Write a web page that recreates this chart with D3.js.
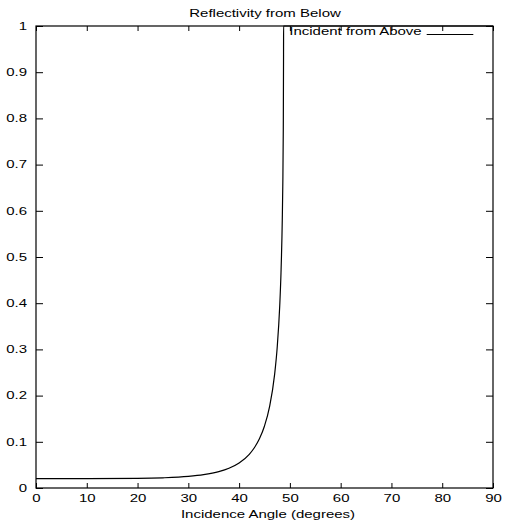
<!DOCTYPE html>
<html>
<head>
<meta charset="utf-8">
<script src="https://cdn.jsdelivr.net/npm/d3@7"></script>
<style>
  body { margin: 0; background: #fff; }
  text { font-family: "Liberation Sans", Arial, sans-serif; font-size: 10px; fill: #000; }
</style>
</head>
<body>
<div id="chart"></div>
<script>
// curve: incidence angle (deg) -> reflectivity
var angles = [0, 10, 20, 25, 30, 33, 36, 38, 40, 42, 43, 44, 45, 46, 47, 47.5, 48, 48.25, 48.5, 48.6, 48.7, 48.75, 48.76, 60, 75, 90];
var reflect = [0.0201, 0.0201, 0.0207, 0.022, 0.0251, 0.0289, 0.0355, 0.0428, 0.0542, 0.073, 0.0872, 0.1065, 0.1342, 0.1761, 0.2466, 0.304, 0.3944, 0.4658, 0.5798, 0.6529, 0.7762, 0.939, 1, 1, 1, 1];

var xTicks = [0, 10, 20, 30, 40, 50, 60, 70, 80, 90];
var yTicks = [0, 0.1, 0.2, 0.3, 0.4, 0.5, 0.6, 0.7, 0.8, 0.9, 1];
var yTickLabels = ["0", "0.1", "0.2", "0.3", "0.4", "0.5", "0.6", "0.7", "0.8", "0.9", "1"];

var titleText = "Reflectivity from Below";
var xLabel = "Incidence Angle (degrees)";
var seriesName = "Incident from Above";

var W = 505, H = 522;
var margin = {top: 26, right: 12, bottom: 34, left: 36};
var sx = 1.5; // text is stretched sideways in the original

var svg = d3.select("#chart").append("svg")
    .attr("width", W)
    .attr("height", H);

var x = d3.scaleLinear().domain([0, 90]).range([margin.left, W - margin.right]);
var y = d3.scaleLinear().domain([0, 1]).range([H - margin.bottom, margin.top]);

// bottom axis (ticks pointing in)
var gx = svg.append("g")
    .attr("transform", "translate(0," + y(0) + ")")
    .call(d3.axisBottom(x).tickValues(xTicks).tickSize(-5).tickPadding(7).tickFormat(d3.format("d")));
gx.selectAll("text").attr("transform", "scale(" + sx + ",1)").attr("font-family", null).attr("font-size", null);

// left axis
var gy = svg.append("g")
    .attr("transform", "translate(" + x(0) + ",0)")
    .call(d3.axisLeft(y).tickValues(yTicks).tickSize(-7)
      .tickFormat(function(d, i) { return yTickLabels[i]; }));
gy.selectAll("text")
    .attr("x", 0)
    .attr("transform", "translate(-9,0) scale(" + sx + ",1)")
    .attr("font-family", null).attr("font-size", null);

// mirrored ticks on top and right
svg.append("g")
    .attr("transform", "translate(0," + y(1) + ")")
    .call(d3.axisTop(x).tickValues(xTicks).tickSize(-5).tickFormat(""));
svg.append("g")
    .attr("transform", "translate(" + x(90) + ",0)")
    .call(d3.axisRight(y).tickValues(yTicks).tickSize(-7).tickFormat(""));

svg.selectAll(".domain").remove();
svg.selectAll(".tick line").attr("stroke", "#000");

// border
svg.append("rect")
    .attr("x", x(0)).attr("y", y(1))
    .attr("width", x(90) - x(0)).attr("height", y(0) - y(1))
    .attr("fill", "none").attr("stroke", "#000").attr("stroke-width", 1.2);

// curve
var pts = angles.map(function(a, i) { return [a, reflect[i]]; });
var line = d3.line()
    .x(function(d) { return x(d[0]); })
    .y(function(d) { return y(d[1]); })
    .curve(d3.curveMonotoneX);
svg.append("path")
    .datum(pts)
    .attr("d", line)
    .attr("fill", "none")
    .attr("stroke", "#000")
    .attr("stroke-width", 1.2);

// legend
svg.append("text")
    .attr("transform", "translate(421.7,35) scale(" + sx + ",1)")
    .attr("text-anchor", "end")
    .text(seriesName);
svg.append("line")
    .attr("x1", 426.7).attr("x2", 473.3)
    .attr("y1", 34.5).attr("y2", 34.5)
    .attr("stroke", "#000").attr("stroke-width", 1);

// title and x label
svg.append("text")
    .attr("transform", "translate(265,16.5) scale(" + sx + ",1)")
    .attr("text-anchor", "middle")
    .text(titleText);
svg.append("text")
    .attr("transform", "translate(268,517.5) scale(" + sx + ",1)")
    .attr("text-anchor", "middle")
    .text(xLabel);
</script>
</body>
</html>
